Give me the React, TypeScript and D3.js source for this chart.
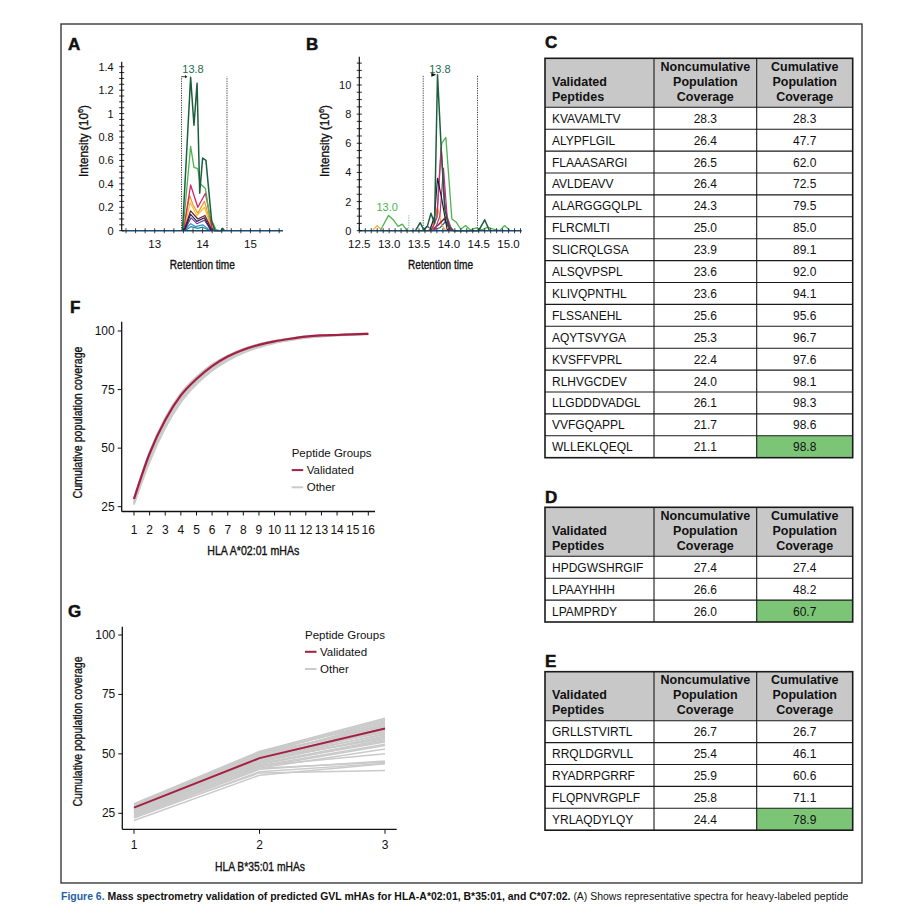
import React, { useRef, useLayoutEffect, useState } from 'react';
import * as d3 from 'd3';

type Pt = [number, number];

const SANS = "'Liberation Sans', Arial, Helvetica, sans-serif";
const NARROW = "'Liberation Sans Narrow', 'Arial Narrow', 'Liberation Sans', Arial, sans-serif";

// ---------- panel A: HLA-A*02:01 spectra (retention time, intensity x10^6)
const aDarkGreen: Pt[] = [[13.58, 0], [13.75, 1.31], [13.82, 0.9], [13.885, 1.26], [13.94, 0.32], [14.0, 0.62], [14.07, 0.6], [14.19, 0.08], [14.26, 0], [14.38, 0], [14.42, 0.02], [14.46, 0]];
const aLightGreen: Pt[] = [[13.59, 0], [13.75, 0.72], [13.82, 0.54], [13.9, 0.53], [13.95, 0.4], [14.06, 0.36], [14.15, 0.12], [14.28, 0.01], [14.35, 0]];
const aMagenta: Pt[] = [[13.6, 0], [13.75, 0.39], [13.9, 0.2], [14.06, 0.32], [14.2, 0.02], [14.28, 0]];
const aOrange: Pt[] = [[13.6, 0], [13.73, 0.3], [13.8, 0.22], [13.9, 0.15], [14.04, 0.25], [14.2, 0.01], [14.26, 0]];
const aYellow: Pt[] = [[13.61, 0], [13.74, 0.24], [13.88, 0.13], [14.04, 0.2], [14.2, 0]];
const aMaroon: Pt[] = [[13.61, 0], [13.75, 0.17], [13.9, 0.1], [14.05, 0.13], [14.2, 0]];
const aNavy: Pt[] = [[13.62, 0], [13.75, 0.14], [13.88, 0.08], [14.04, 0.11], [14.18, 0]];
const aPurple: Pt[] = [[13.62, 0], [13.76, 0.11], [13.88, 0.06], [14.04, 0.09], [14.18, 0]];
const aBlue: Pt[] = [[13.62, 0], [13.75, 0.06], [13.85, 0.035], [14.0, 0.05], [14.12, 0.015], [14.2, 0]];
const aTeal: Pt[] = [[13.63, 0], [13.76, 0.035], [13.9, 0.02], [14.0, 0.03], [14.16, 0]];

const aXTicks = [13, 14, 15];
const aXTickText = ['13', '14', '15'];
const aYTicks = [0, 0.2, 0.4, 0.6, 0.8, 1, 1.2, 1.4];
const aYTickText = ['0', '0.2', '0.4', '0.6', '0.8', '1', '1.2', '1.4'];
const aWindow = [13.56, 14.51];

// ---------- panel B: HLA-B*35:01 spectra
const bDarkGreen: Pt[] = [[13.44, 0], [13.52, 0.55], [13.58, 0.05], [13.64, 0.3], [13.7, 1.2], [13.76, 0.5], [13.81, 10.7], [13.87, 5.8], [13.93, 1.5], [14.0, 0.3], [14.08, 0], [14.5, 0], [14.6, 0.75], [14.68, 0]];
const bLightGreen: Pt[] = [[12.85, 0], [12.99, 1.05], [13.07, 0.75], [13.15, 0.3], [13.22, 0.45], [13.3, 0], [13.72, 0], [13.8, 1.0], [13.88, 6.0], [13.95, 6.4], [14.05, 0.8], [14.12, 0.6], [14.2, 0.1], [14.28, 0.35], [14.36, 0.05], [14.46, 0.2], [14.55, 0.05], [14.65, 0.25], [14.75, 0.1], [14.85, 0], [14.93, 0.35], [15.03, 0]];
const bMagenta: Pt[] = [[13.7, 0], [13.8, 0.9], [13.87, 5.7], [13.93, 2.0], [14.0, 0.1], [14.05, 0]];
const bPink: Pt[] = [[13.76, 0], [13.85, 1.0], [13.91, 4.3], [13.97, 1.0], [14.05, 0]];
const bNavy: Pt[] = [[13.68, 0], [13.76, 1.0], [13.81, 3.6], [13.88, 2.2], [13.97, 0.1], [14.02, 0]];
const bOrange: Pt[] = [[12.72, 0], [12.8, 0.35], [12.88, 0], [13.66, 0], [13.74, 0.6], [13.81, 1.6], [13.88, 0.4], [13.95, 0]];
const bRed: Pt[] = [[13.72, 0], [13.85, 0.5], [13.95, 0.95], [14.03, 0.2], [14.08, 0]];
const bBlue: Pt[] = [[13.55, 0], [13.64, 0.3], [13.72, 0.05], [13.85, 0.2], [13.95, 0.65], [14.02, 0.1], [14.06, 0]];
const bMaroon: Pt[] = [[13.7, 0], [13.82, 0.4], [13.92, 0.8], [14.0, 0.2], [14.05, 0]];

const bXTicks = [12.5, 13.0, 13.5, 14.0, 14.5, 15.0];
const bXTickText = ['12.5', '13.0', '13.5', '14.0', '14.5', '15.0'];
const bYTicks = [0, 2, 4, 6, 8, 10];
const bYTickText = ['0', '2', '4', '6', '8', '10'];
const bWindow = [13.57, 14.48];
const bMinorPeak = 13.33;

// ---------- tables C, D, E
const peptidesC = ['KVAVAMLTV', 'ALYPFLGIL', 'FLAAASARGI', 'AVLDEAVV', 'ALARGGGQLPL', 'FLRCMLTI', 'SLICRQLGSA', 'ALSQVPSPL', 'KLIVQPNTHL', 'FLSSANEHL', 'AQYTSVYGA', 'KVSFFVPRL', 'RLHVGCDEV', 'LLGDDDVADGL', 'VVFGQAPPL', 'WLLEKLQEQL'];
const noncumC = [28.3, 26.4, 26.5, 26.4, 24.3, 25.0, 23.9, 23.6, 23.6, 25.6, 25.3, 22.4, 24.0, 26.1, 21.7, 21.1];
const cumC = [28.3, 47.7, 62.0, 72.5, 79.5, 85.0, 89.1, 92.0, 94.1, 95.6, 96.7, 97.6, 98.1, 98.3, 98.6, 98.8];

const peptidesD = ['HPDGWSHRGIF', 'LPAAYHHH', 'LPAMPRDY'];
const noncumD = [27.4, 26.6, 26.0];
const cumD = [27.4, 48.2, 60.7];

const peptidesE = ['GRLLSTVIRTL', 'RRQLDGRVLL', 'RYADRPGRRF', 'FLQPNVRGPLF', 'YRLAQDYLQY'];
const noncumE = [26.7, 25.4, 25.9, 25.8, 24.4];
const cumE = [26.7, 46.1, 60.6, 71.1, 78.9];

// ---------- panel F: cumulative coverage, HLA A*02:01 (validated = cumC)
const fOther: number[][] = [
  [27.5, 46.5, 61.0, 71.5, 78.8, 84.2, 88.5, 91.6, 93.8, 95.3, 96.5, 97.4, 97.9, 98.2, 98.5, 98.7],
  [26.5, 45.0, 59.5, 70.2, 77.8, 83.5, 87.8, 91.0, 93.3, 95.0, 96.2, 97.1, 97.7, 98.1, 98.4, 98.6],
  [28.0, 48.5, 63.0, 73.5, 80.5, 85.8, 89.6, 92.4, 94.4, 95.8, 96.9, 97.7, 98.2, 98.4, 98.7, 98.9],
  [25.8, 44.0, 58.5, 69.5, 77.2, 83.0, 87.3, 90.6, 93.0, 94.8, 96.0, 97.0, 97.6, 98.0, 98.3, 98.5],
  [27.0, 47.0, 61.8, 72.8, 80.0, 85.4, 89.3, 92.2, 94.2, 95.7, 96.8, 97.6, 98.1, 98.4, 98.6, 98.8],
  [26.2, 45.8, 60.2, 71.0, 78.4, 84.0, 88.2, 91.3, 93.6, 95.2, 96.4, 97.3, 97.8, 98.2, 98.5, 98.7],
  [28.6, 48.0, 62.6, 73.0, 80.2, 85.5, 89.4, 92.3, 94.3, 95.8, 96.8, 97.7, 98.2, 98.5, 98.7, 98.9],
];
const fXTicks = d3.range(1, 17);
const fYTicks = [25, 50, 75, 100];

// ---------- panel G: cumulative coverage, HLA B*35:01 (validated = cumD)
const gOther: number[][] = [
  [29, 51, 65], [28.5, 50.5, 64.5], [28, 50, 64], [28.5, 51, 63], [28, 49.5, 62.5],
  [27.5, 49, 62], [27, 50, 61.5], [27.5, 48.5, 61], [26.5, 48, 60], [27, 47.5, 59.5],
  [26, 49, 59], [26.5, 47, 58.5], [25.5, 48, 58], [26, 46.5, 57.5], [25, 47, 57],
  [25.5, 46, 56], [26, 45.5, 55.5], [25, 46, 55], [24.5, 45, 54], [25, 44.5, 53.5],
  [24, 44, 52], [24.5, 45, 50], [23.5, 43.5, 47], [24, 44, 46.5], [23, 42.5, 46],
  [22, 41, 45.8], [23.5, 42, 43], [28, 50.5, 60.5], [27, 48.5, 63.5], [26, 47.5, 56.5],
];
const gXTicks = [1, 2, 3];
const gYTicks = [25, 50, 75, 100];

// caption pieces
const captionLead = 'Figure 6.';
const captionTitle = ' Mass spectrometry validation of predicted GVL mHAs for HLA-A*02:01, B*35:01, and C*07:02.';
const captionBody = ' (A) Shows representative spectra for heavy-labeled peptide';

const RED = '#a51f40';
const GRAY = '#cacaca';
const fmt1 = d3.format('.1f');

// condensed axis titles: squeeze a regular face and thicken it a touch
const titleProps = {
  fontFamily: NARROW,
  fontSize: 12.5,
  textAnchor: 'middle' as const,
  dominantBaseline: 'central' as const,
  lengthAdjust: 'spacingAndGlyphs' as const,
  fill: '#111',
  stroke: '#111',
  strokeWidth: 0.35,
};

interface ChromSeries { pts: Pt[]; color: string; width: number }

function Chromatogram(props: {
  left: number; right: number; base: number; axisTop: number;
  xDomain: [number, number]; yTopValue: number;
  xMinorStep: number; yMinorStep: number;
  xTicks: number[]; xTickText: string[];
  yTicks: number[]; yTickText: string[];
  series: ChromSeries[]; window: number[]; windowTop: number;
  yTitleX: number; xTitleLen: number;
}) {
  const p = props;
  const x = d3.scaleLinear().domain(p.xDomain).range([p.left, p.right]);
  const y = d3.scaleLinear().domain([0, p.yTopValue]).range([p.base, p.axisTop]);
  const line = d3.line<Pt>().x((d) => x(d[0])).y((d) => y(d[1]));
  const xMinor = d3.range(Math.ceil(p.xDomain[0] / p.xMinorStep) * p.xMinorStep, p.xDomain[1], p.xMinorStep);
  const yMinor = d3.range(0, p.yTopValue, p.yMinorStep);
  const cx = (p.left + p.right) / 2;
  return (
    <g>
      {/* dotted integration window */}
      {p.window.map((t, i) => (
        <line key={'w' + i} x1={x(t)} x2={x(t)} y1={p.base} y2={y(p.windowTop)} stroke="#222" strokeWidth={0.9} strokeDasharray="1.2,1.2" />
      ))}
      {p.series.map((s, i) => (
        <path key={'s' + i} d={line(s.pts) || ''} fill="none" stroke={s.color} strokeWidth={s.width} strokeLinejoin="round" />
      ))}
      {/* x axis */}
      <line x1={p.left} x2={p.right} y1={p.base} y2={p.base} stroke="#22496b" strokeWidth={1.4} />
      {xMinor.map((t, i) => (
        <line key={'xm' + i} x1={x(t)} x2={x(t)} y1={p.base - 2.5} y2={p.base + 2.5} stroke="#1c2b3a" strokeWidth={0.9} />
      ))}
      {p.xTicks.map((t, i) => (
        <text key={'xt' + i} x={x(t)} y={p.base + 13} fontSize={11.5} textAnchor="middle" dominantBaseline="central" fill="#111">{p.xTickText[i]}</text>
      ))}
      {/* y axis */}
      <line x1={p.left} x2={p.left} y1={p.base} y2={p.axisTop} stroke="#111" strokeWidth={1.2} />
      {yMinor.map((v, i) => (
        <line key={'ym' + i} x1={p.left - 2.5} x2={p.left + 2.5} y1={y(v)} y2={y(v)} stroke="#111" strokeWidth={0.9} />
      ))}
      {p.yTicks.map((v, i) => (
        <text key={'yt' + i} x={p.left - 8} y={y(v)} fontSize={11} textAnchor="end" dominantBaseline="central" fill="#111">{p.yTickText[i]}</text>
      ))}
      <text x={cx} y={264.5} textLength={p.xTitleLen} {...titleProps}>Retention time</text>
      <text transform={`translate(${p.yTitleX},141) rotate(-90)`} textLength={72} {...titleProps}>
        Intensity (10<tspan fontSize={8} dy={-4}>6</tspan><tspan dy={4}>)</tspan>
      </text>
    </g>
  );
}

function Table(props: { top: number; peptides: string[]; noncum: number[]; cum: number[] }) {
  const x0 = 545, c1 = 654, c2 = 756.7, x1 = 852.7;
  const headH = 49, rowH = 21.9;
  const { top, peptides, noncum, cum } = props;
  const rows = d3.range(peptides.length);
  const bottom = top + headH + rowH * peptides.length;
  const mid2 = (c1 + c2) / 2, mid3 = (c2 + x1) / 2;
  const last = peptides.length - 1;
  return (
    <g fontSize={12} fill="#111">
      <rect x={x0} y={top} width={x1 - x0} height={headH} fill="#c8c8c8" />
      <rect x={c2} y={top + headH + rowH * last} width={x1 - c2} height={rowH} fill="#7cc576" />
      {rows.map((i) => (
        <line key={'r' + i} x1={x0} x2={x1} y1={top + headH + rowH * i} y2={top + headH + rowH * i} stroke="#1a1a1a" strokeWidth={1.1} />
      ))}
      <line x1={c1} x2={c1} y1={top} y2={bottom} stroke="#1a1a1a" strokeWidth={1.1} />
      <line x1={c2} x2={c2} y1={top} y2={bottom} stroke="#1a1a1a" strokeWidth={1.1} />
      <rect x={x0} y={top} width={x1 - x0} height={bottom - top} fill="none" stroke="#1a1a1a" strokeWidth={1.6} />
      <g fontWeight="bold" fontSize={12.5} dominantBaseline="central">
        <text x={x0 + 7} y={top + 23.5}>Validated</text>
        <text x={x0 + 7} y={top + 38.5}>Peptides</text>
        <text x={mid2} y={top + 8.5} textAnchor="middle">Noncumulative</text>
        <text x={mid2} y={top + 23.5} textAnchor="middle">Population</text>
        <text x={mid2} y={top + 38.5} textAnchor="middle">Coverage</text>
        <text x={mid3} y={top + 8.5} textAnchor="middle">Cumulative</text>
        <text x={mid3} y={top + 23.5} textAnchor="middle">Population</text>
        <text x={mid3} y={top + 38.5} textAnchor="middle">Coverage</text>
      </g>
      {rows.map((i) => {
        const cy = top + headH + rowH * i + rowH / 2 + 0.5;
        return (
          <g key={'t' + i} dominantBaseline="central">
            <text x={x0 + 7} y={cy}>{peptides[i]}</text>
            <text x={mid2} y={cy} textAnchor="middle">{fmt1(noncum[i])}</text>
            <text x={mid3} y={cy} textAnchor="middle">{fmt1(cum[i])}</text>
          </g>
        );
      })}
    </g>
  );
}

function Legend(props: { x: number; y: number }) {
  const { x, y } = props;
  return (
    <g fontSize={11.5} fill="#111" dominantBaseline="central">
      <text x={x} y={y}>Peptide Groups</text>
      <line x1={x} x2={x + 11.5} y1={y + 16.8} y2={y + 16.8} stroke={RED} strokeWidth={2} />
      <text x={x + 15} y={y + 16.8}>Validated</text>
      <line x1={x} x2={x + 11.5} y1={y + 34} y2={y + 34} stroke={GRAY} strokeWidth={2} />
      <text x={x + 15} y={y + 34}>Other</text>
    </g>
  );
}

function CoverageF() {
  const x = d3.scaleLinear().domain([1, 16]).range([134, 368.3]);
  const y = d3.scaleLinear().domain([25, 100]).range([506.7, 331]);
  const line = d3.line<number>().x((_, i) => x(i + 1)).y((d) => y(d)).curve(d3.curveMonotoneX);
  const axisY = 511.5, left = 121.7;
  return (
    <g>
      {fOther.map((s, i) => (
        <path key={i} d={line(s) || ''} fill="none" stroke={GRAY} strokeWidth={1.6} />
      ))}
      <path d={line(cumC) || ''} fill="none" stroke={RED} strokeWidth={2.2} />
      <line x1={left} x2={375} y1={axisY} y2={axisY} stroke="#111" strokeWidth={1.3} />
      <line x1={left} x2={left} y1={axisY} y2={321.7} stroke="#111" strokeWidth={1.3} />
      {fXTicks.map((t) => (
        <g key={t}>
          <line x1={x(t)} x2={x(t)} y1={axisY} y2={axisY + 4} stroke="#111" strokeWidth={1} />
          <text x={x(t)} y={530} fontSize={12} textAnchor="middle" dominantBaseline="central" fill="#111">{t}</text>
        </g>
      ))}
      {fYTicks.map((v) => (
        <g key={v}>
          <line x1={left - 4} x2={left} y1={y(v)} y2={y(v)} stroke="#111" strokeWidth={1} />
          <text x={left - 7} y={y(v)} fontSize={12} textAnchor="end" dominantBaseline="central" fill="#111">{v}</text>
        </g>
      ))}
      <text x={253.3} y={550.7} textLength={92} {...titleProps}>HLA A*02:01 mHAs</text>
      <text transform="translate(78.3,422.5) rotate(-90)" textLength={152} {...titleProps}>Cumulative population coverage</text>
      <Legend x={291.7} y={453.3} />
    </g>
  );
}

function CoverageG() {
  const x = d3.scaleLinear().domain([1, 3]).range([134, 385]);
  const y = d3.scaleLinear().domain([25, 100]).range([813.3, 635]);
  const line = d3.line<number>().x((_, i) => x(i + 1)).y((d) => y(d));
  const axisY = 829.3, left = 122.3;
  return (
    <g>
      {gOther.map((s, i) => (
        <path key={i} d={line(s) || ''} fill="none" stroke={GRAY} strokeWidth={1.5} />
      ))}
      <path d={line(cumD) || ''} fill="none" stroke={RED} strokeWidth={2} />
      <line x1={left} x2={396.7} y1={axisY} y2={axisY} stroke="#111" strokeWidth={1.3} />
      <line x1={left} x2={left} y1={axisY} y2={626.7} stroke="#111" strokeWidth={1.3} />
      {gXTicks.map((t) => (
        <g key={t}>
          <line x1={x(t)} x2={x(t)} y1={axisY} y2={axisY + 4.5} stroke="#111" strokeWidth={1} />
          <text x={x(t)} y={845} fontSize={12} textAnchor="middle" dominantBaseline="central" fill="#111">{t}</text>
        </g>
      ))}
      {gYTicks.map((v) => (
        <g key={v}>
          <line x1={left - 4} x2={left} y1={y(v)} y2={y(v)} stroke="#111" strokeWidth={1} />
          <text x={left - 7} y={y(v)} fontSize={12} textAnchor="end" dominantBaseline="central" fill="#111">{v}</text>
        </g>
      ))}
      <text x={260} y={866.7} textLength={90} {...titleProps}>HLA B*35:01 mHAs</text>
      <text transform="translate(78,731.5) rotate(-90)" textLength={150} {...titleProps}>Cumulative population coverage</text>
      <Legend x={305} y={635} />
    </g>
  );
}

const panelLetter = (t: string, x: number, y: number) => (
  <text x={x} y={y} fontSize={17} fontWeight="bold" fill="#111" stroke="#111" strokeWidth={0.5}>{t}</text>
);

// caption: one run of text, squeezed horizontally to the frame width
function Caption() {
  const ref = useRef<SVGTextElement | null>(null);
  const [sx, setSx] = useState(0.78);
  const target = 787;
  useLayoutEffect(() => {
    if (ref.current) {
      const w = ref.current.getComputedTextLength();
      if (w > 0) setSx(target / w);
    }
  }, []);
  return (
    <g transform={`translate(61,896) scale(${sx},1)`}>
      <text ref={ref} x={0} y={0} fontFamily={NARROW} fontSize={11.5} dominantBaseline="central" fill="#111">
        <tspan fill="#1f5ea8" fontWeight="bold">{captionLead}</tspan>
        <tspan fontWeight="bold">{captionTitle}</tspan>
        <tspan>{captionBody}</tspan>
      </text>
    </g>
  );
}

export default function App() {
  const seriesA: ChromSeries[] = [
    { pts: aTeal, color: '#1b8c8c', width: 1.2 },
    { pts: aBlue, color: '#2f8fcf', width: 1.2 },
    { pts: aYellow, color: '#f2c230', width: 1.2 },
    { pts: aOrange, color: '#f39a1e', width: 1.2 },
    { pts: aMagenta, color: '#d6246e', width: 1.3 },
    { pts: aLightGreen, color: '#4db34f', width: 1.3 },
    { pts: aDarkGreen, color: '#1d5e3f', width: 1.5 },
    { pts: aPurple, color: '#7b3f99', width: 1.2 },
    { pts: aMaroon, color: '#6b1a2e', width: 1.2 },
    { pts: aNavy, color: '#1a2350', width: 1.2 },
  ];
  const seriesB: ChromSeries[] = [
    { pts: bBlue, color: '#1f5fa8', width: 1.2 },
    { pts: bOrange, color: '#f5a623', width: 1.2 },
    { pts: bRed, color: '#c62828', width: 1.2 },
    { pts: bMaroon, color: '#7a1f3d', width: 1.2 },
    { pts: bLightGreen, color: '#4db34f', width: 1.3 },
    { pts: bPink, color: '#b8327a', width: 1.2 },
    { pts: bMagenta, color: '#e0207a', width: 1.3 },
    { pts: bNavy, color: '#1b1f3b', width: 1.2 },
    { pts: bDarkGreen, color: '#1d5e3f', width: 1.5 },
  ];

  const xA = d3.scaleLinear().domain([12.31, 15.68]).range([121.7, 283]);
  const yA = d3.scaleLinear().domain([0, 1.443]).range([230.7, 61.7]);
  const xB = d3.scaleLinear().domain([12.5, 15.22]).range([359.3, 521.7]);
  const yB = d3.scaleLinear().domain([0, 11.94]).range([230.7, 56.7]);

  return (
    <svg width={900} height={917} viewBox="0 0 900 917" style={{ position: 'absolute', left: 0, top: 0 }} fontFamily={SANS}>
      <rect width={900} height={917} fill="#fff" />
      <rect x={61} y={24} width={801} height={859} fill="none" stroke="#3a3a3a" strokeWidth={1.4} />

      {panelLetter('A', 68, 50)}
      <Chromatogram left={121.7} right={283} base={230.7} axisTop={61.7} xDomain={[12.31, 15.68]} yTopValue={1.443}
        xMinorStep={0.2} yMinorStep={0.05} xTicks={aXTicks} xTickText={aXTickText} yTicks={aYTicks} yTickText={aYTickText}
        series={seriesA} window={aWindow} windowTop={1.315} yTitleX={84} xTitleLen={65} />
      <line x1={xA(aWindow[0])} x2={xA(aWindow[0]) + 4} y1={yA(1.315)} y2={yA(1.315)} stroke="#222" strokeWidth={0.9} />
      <path d={`M${xA(aWindow[0]) + 6},${yA(1.315)} l-2.5,-1.6 v3.2 z`} fill="#222" />
      <text x={xA(13.8)} y={yA(1.38)} fontSize={11} textAnchor="middle" dominantBaseline="central" fill="#226b4e">13.8</text>

      {panelLetter('B', 306, 50)}
      <Chromatogram left={359.3} right={521.7} base={230.7} axisTop={56.7} xDomain={[12.5, 15.22]} yTopValue={11.94}
        xMinorStep={0.1} yMinorStep={0.5} xTicks={bXTicks} xTickText={bXTickText} yTicks={bYTicks} yTickText={bYTickText}
        series={seriesB} window={bWindow} windowTop={10.7} yTitleX={325} xTitleLen={65} />
      <line x1={xB(bMinorPeak)} x2={xB(bMinorPeak)} y1={230.7} y2={yB(1.05)} stroke="#4db34f" strokeWidth={0.9} strokeDasharray="1.2,1.2" />
      <path d={`M${xB(13.79)},${yB(10.7)} l-5,-2 v4 z`} fill="#111" />
      <text x={xB(13.8) + 3} y={yB(11.1)} fontSize={11} textAnchor="middle" dominantBaseline="central" fill="#226b4e">13.8</text>
      <text x={xB(13.0) - 2} y={yB(1.65)} fontSize={11} textAnchor="middle" dominantBaseline="central" fill="#4db34f">13.0</text>

      {panelLetter('C', 545, 48)}
      <Table top={58.3} peptides={peptidesC} noncum={noncumC} cum={cumC} />
      {panelLetter('D', 545, 503)}
      <Table top={507.3} peptides={peptidesD} noncum={noncumD} cum={cumD} />
      {panelLetter('E', 545, 666.5)}
      <Table top={671.7} peptides={peptidesE} noncum={noncumE} cum={cumE} />

      {panelLetter('F', 70, 313)}
      <CoverageF />
      {panelLetter('G', 68, 617)}
      <CoverageG />

      <Caption />
    </svg>
  );
}
